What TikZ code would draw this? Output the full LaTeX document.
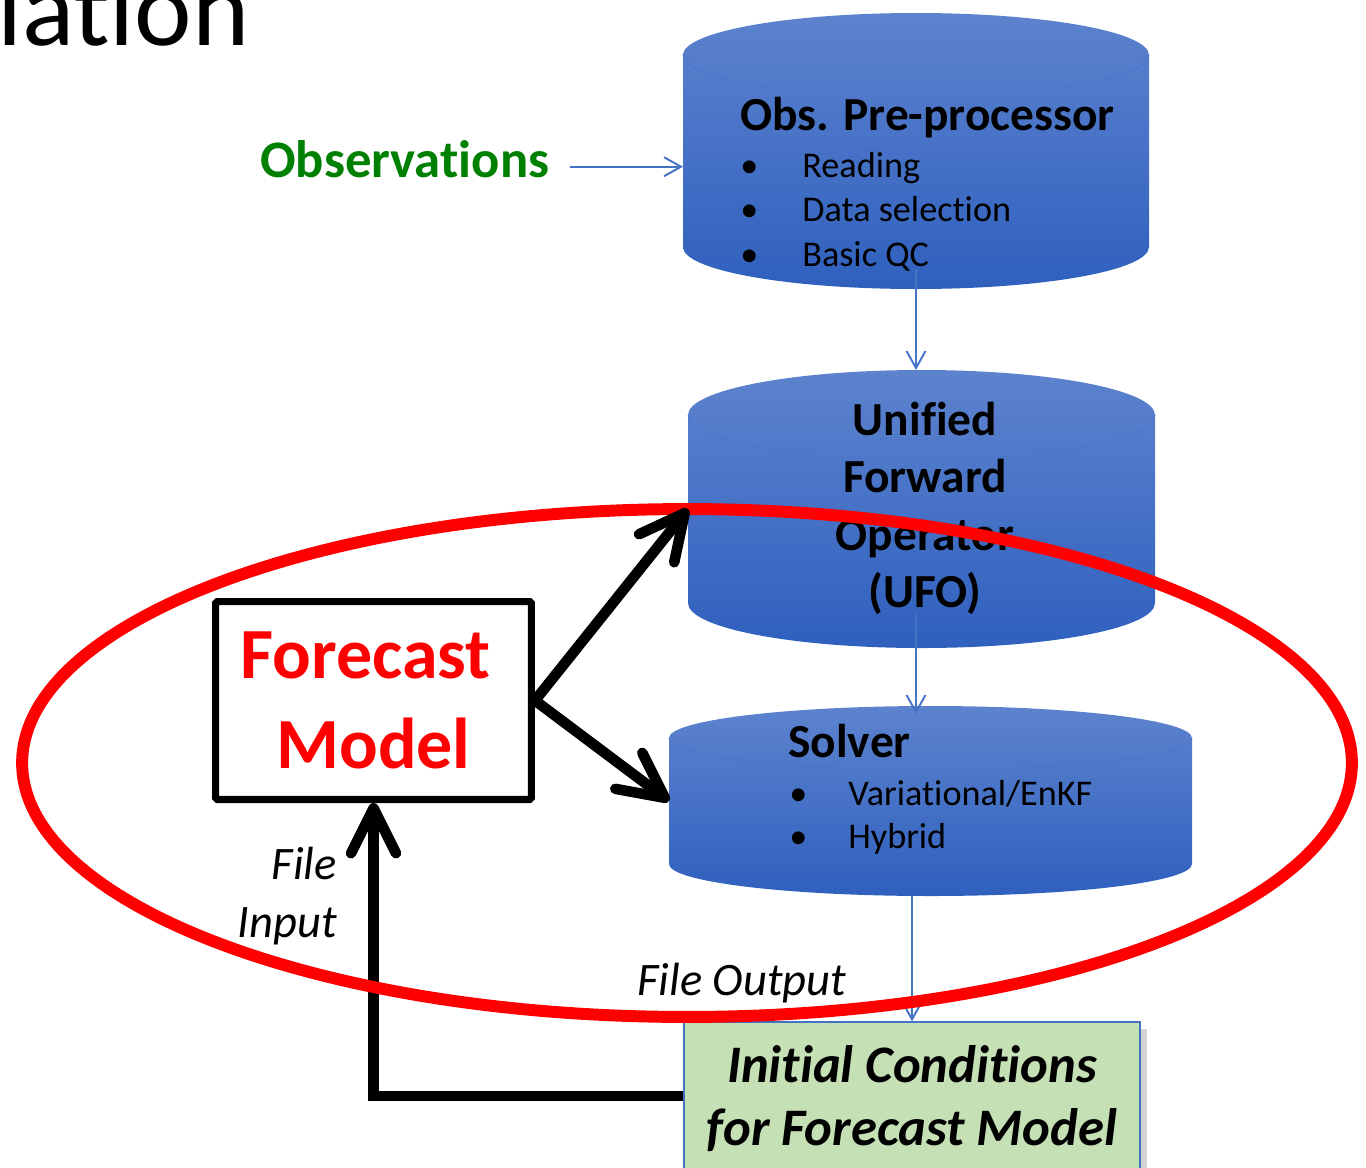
\documentclass[tikz,border=0pt]{standalone}
\usepackage{fontspec}
\setmainfont{Carlito}[Ligatures=NoCommon]
\usetikzlibrary{arrows.meta,positioning,shapes.geometric,shadows}
\definecolor{linkblue}{RGB}{68,114,196}
\definecolor{drumtop}{RGB}{93,131,206}
\definecolor{drumbot}{RGB}{47,96,190}
\definecolor{obsgreen}{RGB}{0,128,0}
\definecolor{icgreen}{RGB}{197,224,180}
\tikzset{
  drumfill/.style={top color=drumtop,bottom color=drumbot,draw=none},
  drumcap/.style={draw=drumtop!60!drumbot,line width=0.4pt},
  drumnode/.style={inner sep=0pt,outer sep=0pt},
  head/.style={inner sep=0pt,font=\fontsize{27}{32}\selectfont\bfseries},
  item/.style={inner sep=0pt,font=\fontsize{20.6}{25}\selectfont},
  link/.style={-{Straight Barb[length=3.4mm,width=3.8mm]},draw=linkblue,line width=1.1pt},
  feed/.style={-{Straight Barb[length=9mm,width=9mm,round]},line width=6pt},
  model/.style={draw=black,line width=4pt,rounded corners=1pt,minimum width=6.32cm,minimum height=3.96cm,align=center,text=red,font=\fontsize{41}{51}\selectfont\bfseries},
  icbox/.style={draw=linkblue,line width=0.8pt,fill=icgreen,drop shadow={shadow xshift=4pt,shadow yshift=-4pt,opacity=0.35},minimum width=9.12cm,minimum height=2.96cm},
  ring/.style={ellipse,draw=red,line width=6.8pt,minimum width=26.6cm,minimum height=10.16cm,inner sep=0pt},
  filelab/.style={inner sep=0pt,font=\fontsize{26.5}{33}\selectfont\itshape}
}
% drum: name, centre x, top cap y, bottom cap y, half width, cap radius (all in px)
\newcommand{\drum}[6]{%
  \shade[drumfill] (#2-#5,#3) arc[start angle=180,end angle=360,x radius=#5,y radius=#6]
    -- (#2+#5,#4) arc[start angle=0,end angle=180,x radius=#5,y radius=#6] -- cycle;
  \draw[drumcap] (#2-#5,#3) arc[start angle=180,end angle=0,x radius=#5,y radius=#6];
  \node[drumnode,minimum width={2*#5*0.02cm},minimum height={(#4-#3+2*#6)*0.02cm}] (#1) at (#2,{(#3+#4)/2}) {};
}
\begin{document}
\begin{tikzpicture}[x=0.02cm,y=-0.02cm]
\useasboundingbox (0,0) rectangle (1366,1167);
\clip (0,0) rectangle (1366,1167);
\node[anchor=base east,inner sep=0pt,font=\fontsize{62}{70}\selectfont] (title) at (250,45) {lation};
% the three stages
\drum{pre}{916}{55}{247}{233}{42}
\drum{ufo}{921.5}{415}{603}{233.5}{45}
\drum{solver}{930.5}{738}{864}{261.5}{32}
\node[head,anchor=base west] (prehead) at (740,130) {Obs. Pre-processor};
\foreach \txt [count=\i] in {Reading,Data selection,Basic QC}
  \node[item,anchor=base west] (preitem\i) at (740,{177+44.5*(\i-1)}) {\makebox[1.24cm][l]{\textbullet}\txt};
\foreach \txt/\y [count=\i] in {Unified/435,Forward/492,Operator/550,{(UFO)}/607}
  \node[head,anchor=base] (ufoline\i) at (925,\y) {\txt};
\node[head,anchor=base west] (solvhead) at (788,757) {Solver};
\foreach \txt [count=\i] in {{Variational/EnKF},Hybrid}
  \node[item,anchor=base west] (solvitem\i) at (789,{805+43*(\i-1)}) {\makebox[1.18cm][l]{\textbullet}\txt};
\node[anchor=base west,inner sep=0pt,text=obsgreen,font=\fontsize{30}{36}\selectfont\bfseries] (obs) at (260,177) {Observations};
% model and output
\node[model] (fm) at (373.5,700.5) {Forecast\hspace*{0.32cm}\\Model};
\node[icbox] (ic) at (912,1096) {};
\foreach \txt/\y [count=\i] in {Initial Conditions/1082,for Forecast Model/1145}
  \node[inner sep=0pt,anchor=base,font=\fontsize{30}{36}\selectfont\bfseries\itshape] (icline\i) at (912,\y) {\txt};
\node[filelab,align=right,anchor=east] (fin) at (337,896) {File\\Input};
\node[filelab,anchor=base west] (fout) at (637,995) {File Output};
% connectors
\draw[link] ([xshift=0.4cm,yshift=-0.16cm]obs.east) -- ([yshift=-0.16cm]obs.east -| pre.west);
\draw[link,shorten <=-0.4cm] (pre.south) -- (pre.south |- ufo.north);
\draw[link,shorten <=-0.68cm,shorten >=-0.16cm] (ufo.south -| pre.south) -- (solver.north -| pre.south);
\draw[link] (solver.south -| ic.north) -- (ic.north);
\draw[feed] (ic.west) -| (fm.south);
\node[ring] (focus) at (687,763) {};
\draw[feed] (fm.east) -- (ufo.west);
\draw[feed] (fm.east) -- (solver.west);
\end{tikzpicture}
\end{document}
